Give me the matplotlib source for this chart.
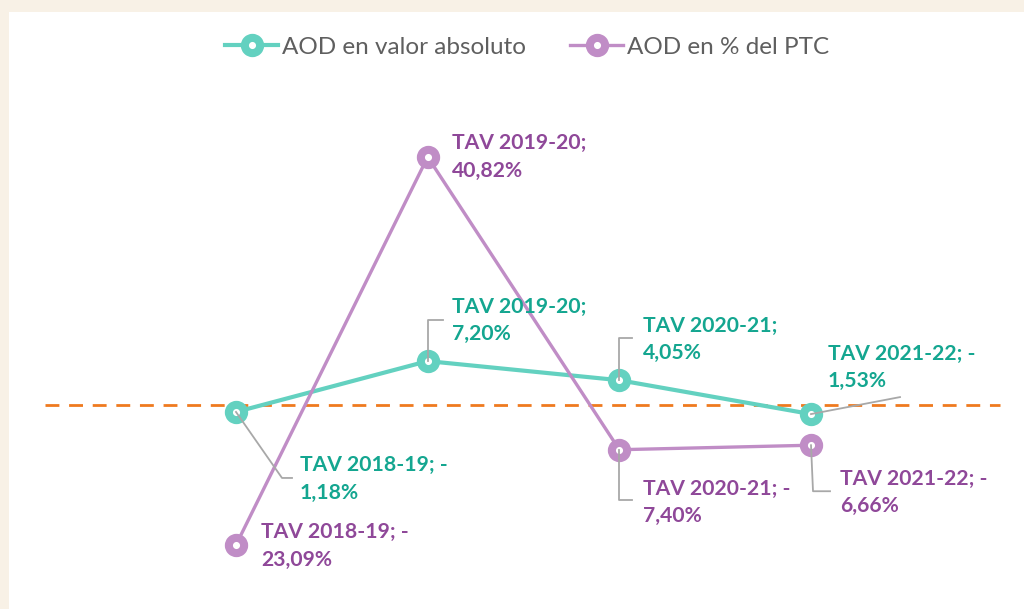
import matplotlib
matplotlib.use("Agg")
import matplotlib.pyplot as plt
from matplotlib import transforms
from matplotlib.patches import Rectangle

periodos = ["2018-19", "2019-20", "2020-21", "2021-22"]
aod_absoluto = [-1.18, 7.20, 4.05, -1.53]
aod_ptc = [-23.09, 40.82, -7.40, -6.66]

nome_absoluto = "AOD en valor absoluto"
nome_ptc = "AOD en % del PTC"

COR_TEAL = "#63d1c0"
COR_TEAL_TXT = "#14a690"
COR_ROXO = "#c08dc6"
COR_ROXO_TXT = "#8f4899"
COR_LARANJA = "#ef7a1f"
COR_GUIA = "#a8a8a8"
COR_FUNDO = "#f8f1e6"

# deslocamentos em pixels (x para a direita, y para baixo) relativos ao marcador
texto_abs = [(64, 67), (24, -41), (24, -41), (17, -47)]
texto_ptc = [(25, 1), (24, 0), (24, 53), (29, 47)]
guias_abs = [[(0, 0), (46, 66), (56, 66)],
             [(0, 0), (0, -41), (15, -41)],
             [(0, 0), (0, -42), (13, -42)],
             [(0, 0), (89, -17)]]
guias_ptc = [None, None,
             [(0, 0), (0, 50), (13, 50)],
             [(0, 0), (2, 46), (19, 46)]]


def rotulo(periodo, valor):
    numero = ("%.2f" % abs(valor)).replace(".", ",") + "%"
    if valor < 0:
        return "TAV %s; -\n%s" % (periodo, numero)
    return "TAV %s;\n%s" % (periodo, numero)


plt.rcParams["font.family"] = ["Lato", "DejaVu Sans"]

fig = plt.figure(figsize=(10.24, 6.09), dpi=100, facecolor=COR_FUNDO)
fundo = Rectangle((9 / 1024, 0), 1, 597 / 609, transform=fig.transFigure,
                  facecolor="white", edgecolor="none", zorder=-5)
fig.patches.append(fundo)
ax = fig.add_axes([0, 0, 1, 1])
ax.set_facecolor("none")
ax.set_axis_off()

x = list(range(len(periodos)))
passo_x = 191.67
escala_y = 6.07
zero_y = 404.8
ax.set_xlim(-236 / passo_x, (1024 - 236) / passo_x)
ax.set_ylim((zero_y - 609) / escala_y, zero_y / escala_y)

ax.axhline(0, xmin=45 / 1024, xmax=1000 / 1024, color=COR_LARANJA, linewidth=2,
           dashes=(5, 3.5), zorder=1)

linha_abs, = ax.plot(x, aod_absoluto, color=COR_TEAL, linewidth=3, marker="o",
                     markersize=11, markeredgewidth=5.8, markerfacecolor="white",
                     markeredgecolor=COR_TEAL, label=nome_absoluto, zorder=3)
linha_ptc, = ax.plot(x, aod_ptc, color=COR_ROXO, linewidth=2.4, marker="o",
                     markersize=11, markeredgewidth=5.8, markerfacecolor="white",
                     markeredgecolor=COR_ROXO, label=nome_ptc, zorder=4)

for valores, textos, guias, cor in [(aod_absoluto, texto_abs, guias_abs, COR_TEAL_TXT),
                                    (aod_ptc, texto_ptc, guias_ptc, COR_ROXO_TXT)]:
    for i, v in enumerate(valores):
        dx, dy = textos[i]
        ax.annotate(rotulo(periodos[i], v), xy=(i, v), xytext=(dx * 0.72, -dy * 0.72),
                    textcoords="offset points", ha="left", va="center",
                    fontsize=15.2, fontweight="bold", color=cor, linespacing=1.45,
                    zorder=6)
        if guias[i]:
            trans = fig.dpi_scale_trans + transforms.ScaledTranslation(i, v, ax.transData)
            gx = [p[0] / 100 for p in guias[i]]
            gy = [-p[1] / 100 for p in guias[i]]
            ax.plot(gx, gy, transform=trans, color=COR_GUIA, linewidth=1.3, zorder=5)

fig.legend(handles=[linha_abs, linha_ptc], loc="center",
           bbox_to_anchor=(527 / 1024, 1 - 47 / 609), ncol=2, frameon=False,
           fontsize=17.5, handlelength=2.2, handletextpad=0.15, columnspacing=1.8,
           labelcolor="#5f5f5f")

fig.savefig("out.png", dpi=100, facecolor=COR_FUNDO)
